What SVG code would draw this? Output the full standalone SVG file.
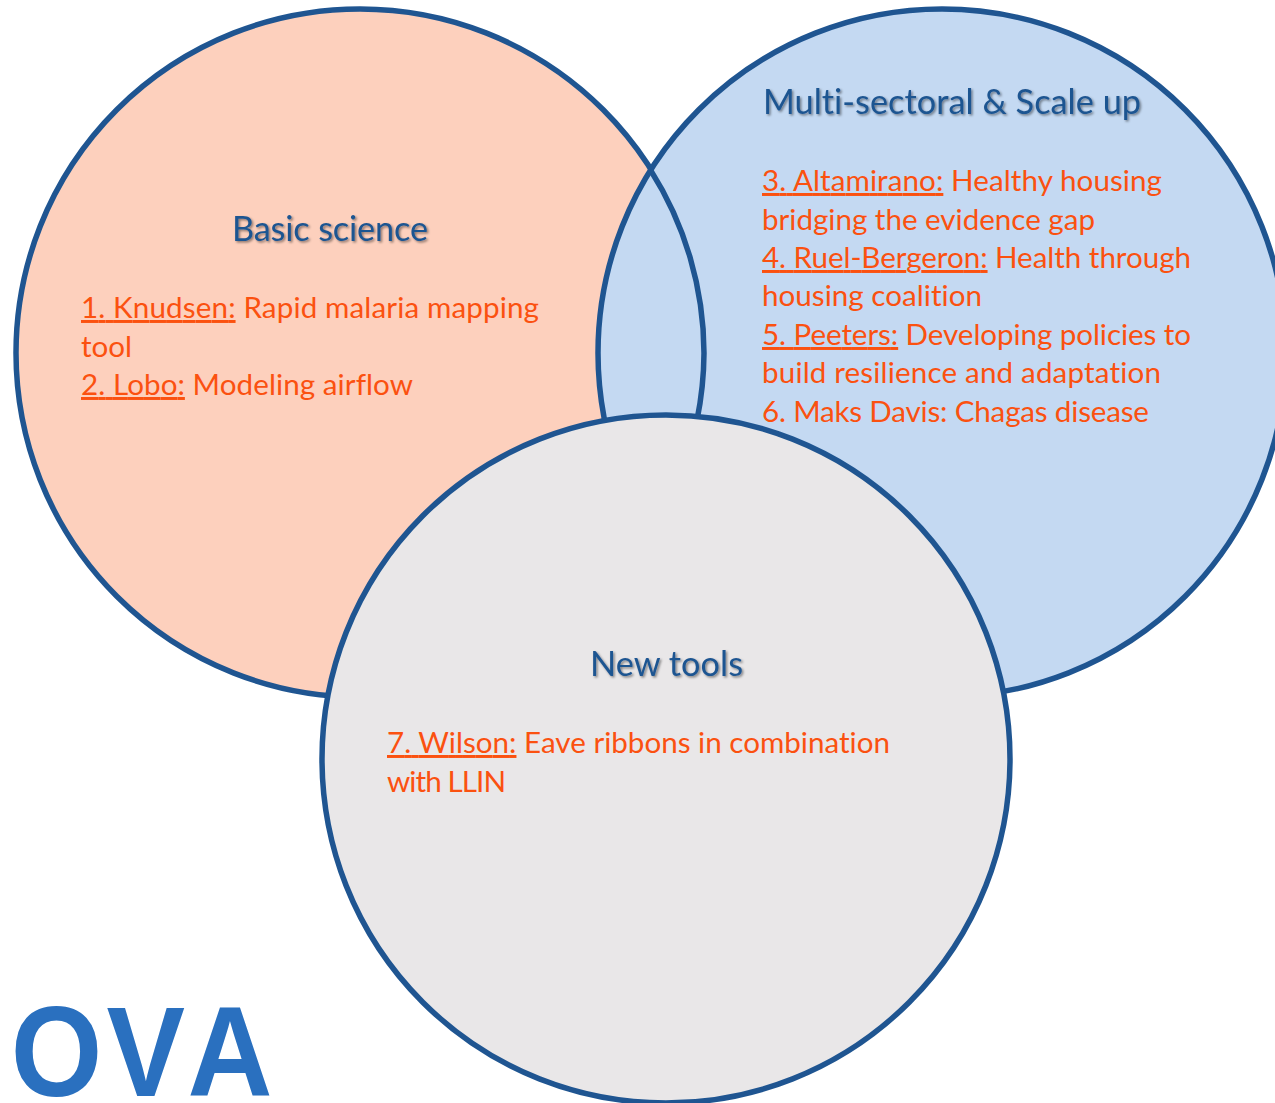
<svg xmlns="http://www.w3.org/2000/svg" width="1275" height="1103" viewBox="0 0 1275 1103">
<defs>
<style>
.c{stroke:#1f5591;stroke-width:5.5;}
.h{font-family:"Lato","Liberation Sans",sans-serif;font-size:34.3px;fill:#1f5591;filter:url(#s);font-variant-ligatures:none;}
.b{font-family:"Lato","Liberation Sans",sans-serif;font-size:29.6px;fill:#fb5110;font-variant-ligatures:none;}
.u{text-decoration:underline;}
.logo{font-family:"Liberation Sans",sans-serif;font-size:128px;font-weight:700;fill:#2a70bf;}
</style>
<filter id="s" x="-5%" y="-20%" width="110%" height="150%"><feDropShadow dx="1.5" dy="1.5" stdDeviation="1.2" flood-color="#000" flood-opacity="0.45"/></filter>
</defs>
<rect width="1275" height="1103" fill="#fff"/>
<g id="circle-basic-science"><circle class="c" cx="360" cy="353" r="344" fill="#fdd0bd"/></g>
<g id="circle-multi-sectoral"><circle class="c" cx="942" cy="353" r="344" fill="#c4d9f2"/>
<path class="c" fill="none" d="M650.5 170A344 344 0 0 1 704 353A344 344 0 0 1 697 420"/></g>
<g id="circle-new-tools"><circle class="c" cx="666" cy="759" r="344" fill="#e9e7e8"/></g>
<g id="text-basic-science">
<text class="h" x="232" y="240.5" textLength="196">Basic science</text>
<text class="b" x="81" y="318" textLength="458"><tspan class="u">1. Knudsen:</tspan> Rapid malaria mapping</text>
<text class="b" x="81" y="357" textLength="51">tool</text>
<text class="b" x="81" y="395" textLength="332"><tspan class="u">2. Lobo:</tspan> Modeling airflow</text>
</g>
<g id="text-multi-sectoral">
<text class="h" x="763" y="113.5" textLength="378">Multi-sectoral &amp; Scale up</text>
<text class="b" x="762" y="191" textLength="400"><tspan class="u">3. Altamirano:</tspan> Healthy housing</text>
<text class="b" x="762" y="230" textLength="333">bridging the evidence gap</text>
<text class="b" x="762" y="268" textLength="429"><tspan class="u">4. Ruel-Bergeron:</tspan> Health through</text>
<text class="b" x="762" y="306" textLength="220">housing coalition</text>
<text class="b" x="762" y="345" textLength="429"><tspan class="u">5. Peeters:</tspan> Developing policies to</text>
<text class="b" x="762" y="383" textLength="399">build resilience and adaptation</text>
<text class="b" x="762" y="422" textLength="387">6. Maks Davis: Chagas disease</text>
</g>
<g id="text-new-tools">
<text class="h" x="590" y="675.5" textLength="153">New tools</text>
<text class="b" x="387" y="753" textLength="503"><tspan class="u">7. Wilson:</tspan> Eave ribbons in combination</text>
<text class="b" x="387" y="792" textLength="119">with LLIN</text>
</g>
<g id="logo"><text class="logo" transform="translate(8 1096) scale(.92 1)" x="3 107 195">OVA</text></g>
</svg>
